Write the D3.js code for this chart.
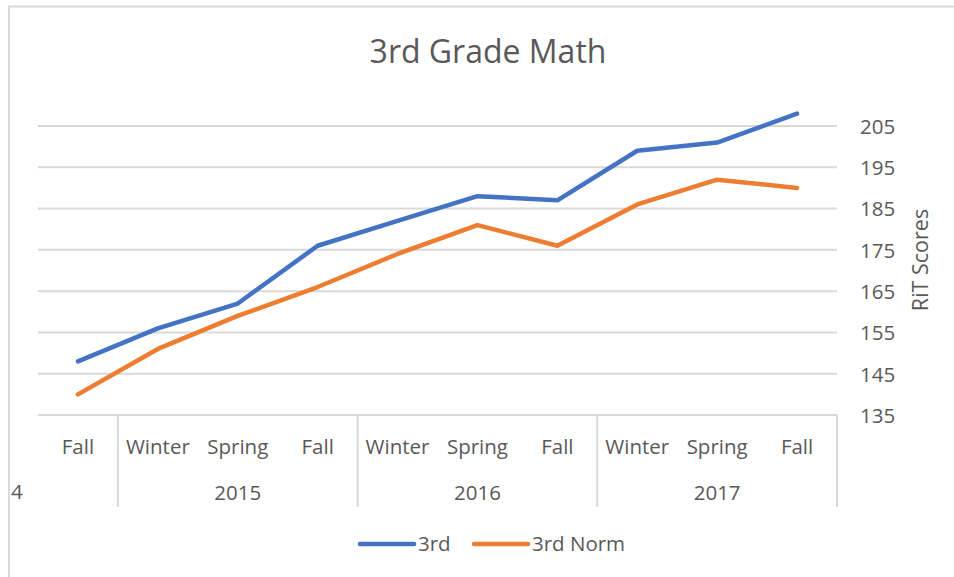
<!DOCTYPE html>
<html>
<head>
<meta charset="utf-8">
<script src="https://cdn.jsdelivr.net/npm/d3@7"></script>
<style>
  body { margin: 0; background: #fff; }
  text { font-family: "Open Sans", sans-serif; fill: #595959; }
</style>
</head>
<body>
<svg width="954" height="577"></svg>
<script>
// data
var seasons = ["Fall", "Winter", "Spring", "Fall", "Winter", "Spring", "Fall", "Winter", "Spring", "Fall"];
var years = ["2015", "2016", "2017"];
var yearStart = [1, 4, 7];   // first season index of each year group
var third = [148, 156, 162, 176, 182, 188, 187, 199, 201, 208];
var thirdNorm = [140, 151, 159, 166, 174, 181, 176, 186, 192, 190];
var yTicks = [135, 145, 155, 165, 175, 185, 195, 205];

var svg = d3.select("svg"),
  width = +svg.attr("width"),
  height = +svg.attr("height");

var fontSize = 20.5;

// chart border (left + top only visible)
svg.append("path")
  .attr("d", "M9,577 V6.5 H954")
  .attr("fill", "none")
  .attr("stroke", "#d9d9d9")
  .attr("stroke-width", 2);

// title
svg.append("text")
  .attr("x", 488)
  .attr("y", 63)
  .attr("text-anchor", "middle")
  .style("font-size", "32px")
  .text("3rd Grade Math");

// scales
var x = d3.scaleBand()
  .domain(d3.range(seasons.length))
  .range([38, 837]);

var y = d3.scaleLinear()
  .domain([135, 205])
  .range([415, 126]);

// gridlines
svg.append("g")
  .selectAll("line")
  .data(yTicks)
  .enter()
  .append("line")
    .attr("x1", x.range()[0])
    .attr("x2", x.range()[1])
    .attr("y1", function (d) { return y(d); })
    .attr("y2", function (d) { return y(d); })
    .attr("stroke", "#d9d9d9")
    .attr("stroke-width", 2);

// right axis
var yAxis = svg.append("g")
  .attr("transform", "translate(860,0)")
  .call(d3.axisRight(y).tickValues(yTicks).tickSize(0).tickPadding(0));
yAxis.select(".domain").remove();
yAxis.selectAll("text")
  .attr("x", 0)
  .attr("dy", "0.36em")
  .style("font-family", "'Open Sans', sans-serif")
  .style("font-size", fontSize + "px")
  .attr("fill", "#595959");

svg.append("text")
  .attr("transform", "translate(928,260) rotate(-90)")
  .attr("text-anchor", "middle")
  .style("font-size", "21.5px")
  .text("RiT Scores");

// category axis: season row
svg.append("g")
  .selectAll("text")
  .data(seasons)
  .enter()
  .append("text")
    .attr("x", function (d, i) { return x(i) + x.bandwidth() / 2; })
    .attr("y", 454)
    .attr("text-anchor", "middle")
    .style("font-size", fontSize + "px")
    .text(function (d) { return d; });

// year row
svg.append("g")
  .selectAll("text")
  .data(years)
  .enter()
  .append("text")
    .attr("x", function (d, i) { return x(yearStart[i]) + x.bandwidth() * 1.5; })
    .attr("y", 500)
    .attr("text-anchor", "middle")
    .style("font-size", fontSize + "px")
    .text(function (d) { return d; });

// stray label left of the axis
svg.append("text")
  .attr("x", 11)
  .attr("y", 499)
  .style("font-size", fontSize + "px")
  .text("4");

// group separators
var seps = yearStart.concat([seasons.length]);
svg.append("g")
  .selectAll("line")
  .data(seps)
  .enter()
  .append("line")
    .attr("x1", function (d) { return d < seasons.length ? x(d) : x.range()[1]; })
    .attr("x2", function (d) { return d < seasons.length ? x(d) : x.range()[1]; })
    .attr("y1", y(135))
    .attr("y2", 507)
    .attr("stroke", "#d9d9d9")
    .attr("stroke-width", 2);

// lines
var line = d3.line()
  .x(function (d, i) { return x(i) + x.bandwidth() / 2; })
  .y(function (d) { return y(d); });

var series = [
  { name: "3rd", values: third, color: "#4472c4" },
  { name: "3rd Norm", values: thirdNorm, color: "#ed7d31" }
];

svg.append("g")
  .selectAll("path")
  .data(series)
  .enter()
  .append("path")
    .attr("d", function (d) { return line(d.values); })
    .attr("fill", "none")
    .attr("stroke", function (d) { return d.color; })
    .attr("stroke-width", 4.5)
    .attr("stroke-linecap", "round")
    .attr("stroke-linejoin", "round");

// legend
var legendX = [360, 474];
var leg = svg.append("g")
  .selectAll("g")
  .data(series)
  .enter()
  .append("g")
    .attr("transform", function (d, i) { return "translate(" + legendX[i] + ",544)"; });
leg.append("line")
  .attr("x1", 0)
  .attr("x2", 54)
  .attr("stroke", function (d) { return d.color; })
  .attr("stroke-width", 4.5)
  .attr("stroke-linecap", "round");
leg.append("text")
  .attr("x", 58)
  .attr("dy", "0.36em")
  .style("font-size", fontSize + "px")
  .text(function (d) { return d.name; });
</script>
</body>
</html>
